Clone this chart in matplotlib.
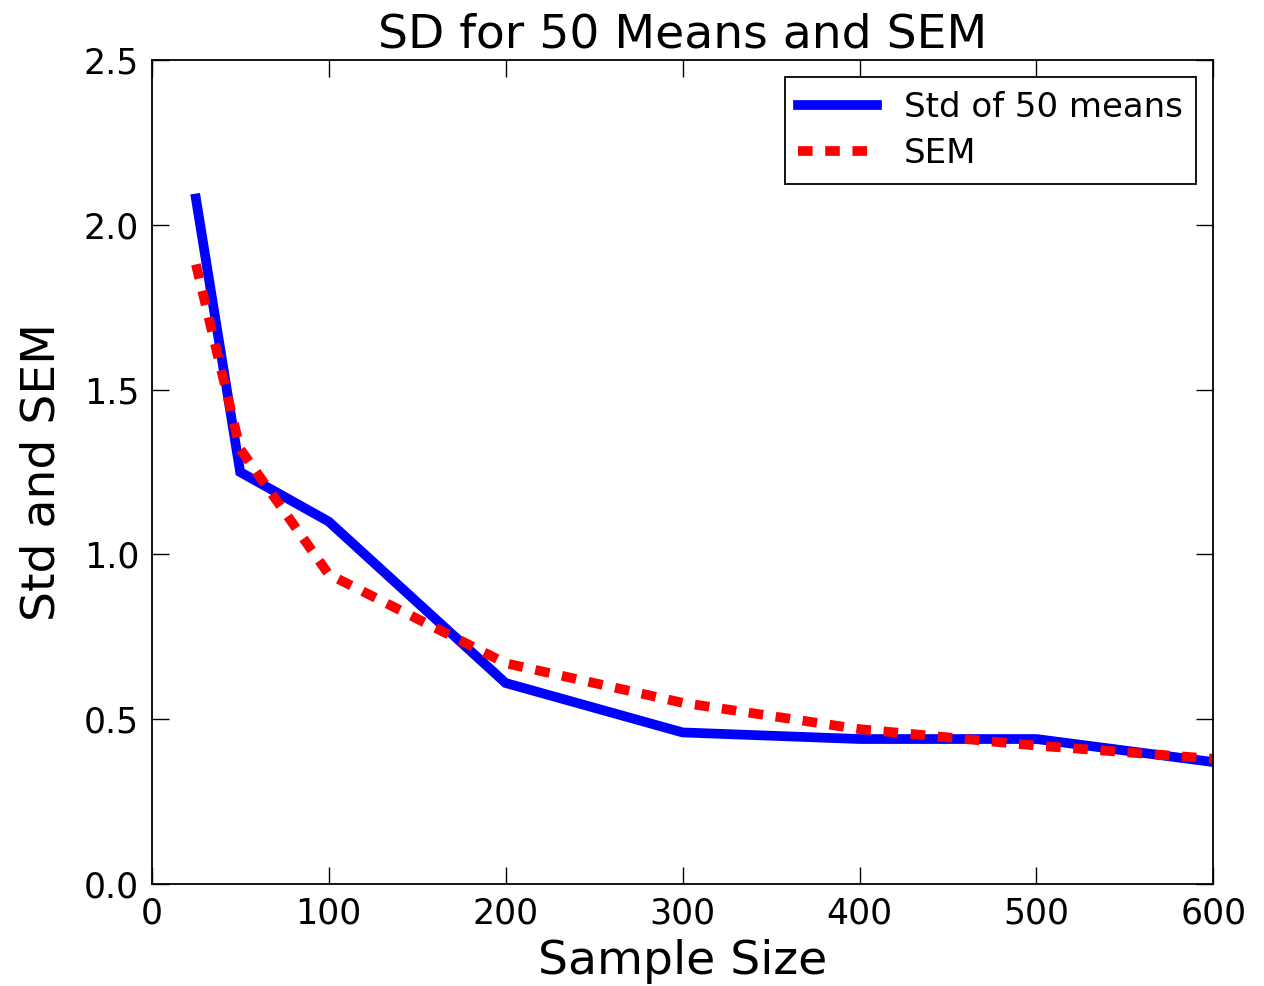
import matplotlib
matplotlib.use('Agg')
import matplotlib.pyplot as plt

# sample sizes and the two measures
sample_size = [25, 50, 100, 200, 300, 400, 500, 600]
std_of_means = [2.08, 1.25, 1.10, 0.61, 0.46, 0.44, 0.44, 0.37]
sem = [1.88, 1.32, 0.94, 0.67, 0.55, 0.47, 0.42, 0.38]

fig = plt.figure(figsize=(12.64, 9.86), dpi=100)
ax = fig.add_axes([0.120, 0.1034, 0.840, 0.8357])

ax.plot(sample_size, std_of_means, color='blue', lw=7, label='Std of 50 means',
        solid_joinstyle='miter')
ax.plot(sample_size, sem, color='red', lw=7, dashes=(1.5, 1.3), label='SEM')

ax.set_xlim(0, 600)
ax.set_ylim(0, 2.5)
ax.set_xticks([0, 100, 200, 300, 400, 500, 600])
ax.set_yticks([0.0, 0.5, 1.0, 1.5, 2.0, 2.5])
ax.yaxis.set_major_formatter(matplotlib.ticker.FormatStrFormatter('%.1f'))
ax.tick_params(direction='in', top=True, right=True, length=12, width=1,
               labelsize=25, pad=9)
for s in ax.spines.values():
    s.set_linewidth(1.3)

ax.set_title('SD for 50 Means and SEM', fontsize=34, pad=9)
ax.set_xlabel('Sample Size', fontsize=34, labelpad=6)
ax.set_ylabel('Std and SEM', fontsize=34, labelpad=14)

leg = ax.legend(loc='upper right', fontsize=24.5, fancybox=False, handlelength=2.3,
                borderaxespad=0.5, framealpha=1, labelspacing=0.4)
leg.get_frame().set_edgecolor('black')
leg.get_frame().set_linewidth(1.3)

fig.savefig('out.png', dpi=100)
